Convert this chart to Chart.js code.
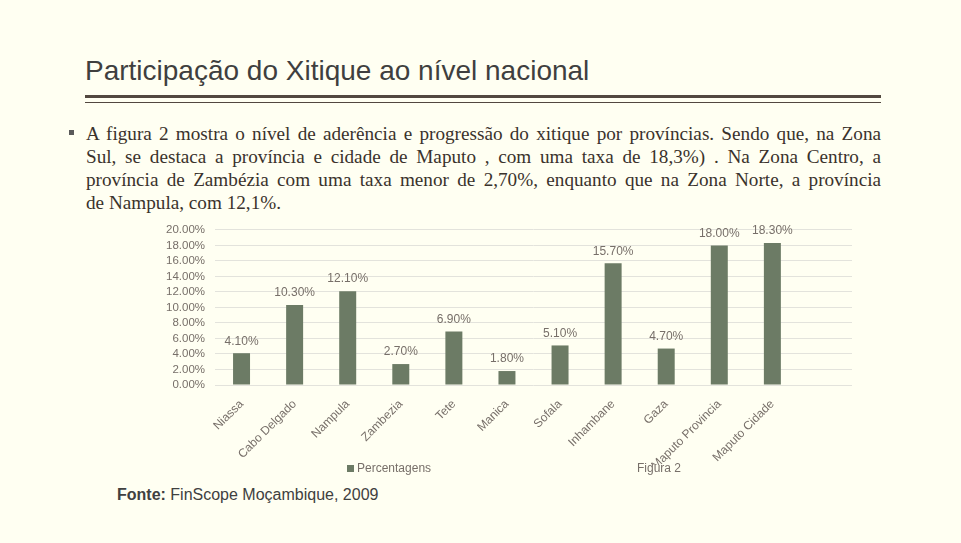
<!DOCTYPE html>
<html>
<head>
<meta charset="utf-8">
<script src="https://cdn.jsdelivr.net/npm/chart.js@4/dist/chart.umd.min.js"></script>
<style>
  html, body { margin: 0; padding: 0; }
  body { width: 961px; height: 543px; background: #FFFFF2; position: relative; overflow: hidden; font-family: "Liberation Sans", Arial, sans-serif; }
  #title { position: absolute; left: 85px; top: 55px; font-size: 28px; color: #3F3F3F; white-space: nowrap; }
  #rule1 { position: absolute; left: 85px; top: 95px; width: 796px; height: 3px; background: #524840; }
  #rule2 { position: absolute; left: 85px; top: 102px; width: 796px; height: 1px; background: #524840; }
  #bullet { position: absolute; left: 69px; top: 130px; width: 5px; height: 5px; background: #5a5a5a; }
  #body { position: absolute; left: 86px; top: 122px; width: 795px; font-family: "Liberation Serif", "Times New Roman", serif; font-size: 19.2px; color: #3A322C; line-height: 23px; }
  #body div { white-space: nowrap; }
  #body div.j { text-align: justify; text-align-last: justify; }
  #chartbox { position: absolute; left: 150px; top: 213px; width: 720px; height: 252px; }
  #legend { position: absolute; top: 461px; left: 0; width: 961px; font-size: 12px; color: #776F69; }
  .li { position: absolute; white-space: nowrap; }
  .sw { display: inline-block; width: 7px; height: 7px; margin-right: 3px; vertical-align: 0px; }
  #fonte { position: absolute; left: 117px; top: 486px; font-size: 16px; color: #404040; white-space: nowrap; }
</style>
</head>
<body>
<div id="title">Participação do Xitique ao nível nacional</div>
<div id="rule1"></div>
<div id="rule2"></div>
<div id="bullet"></div>
<div id="body">
  <div class="j">A figura 2 mostra o nível de aderência e progressão do xitique por províncias. Sendo que, na Zona</div>
  <div class="j">Sul, se destaca a província e cidade de Maputo , com uma taxa de 18,3%) . Na Zona Centro, a</div>
  <div class="j">província de Zambézia com uma taxa menor de 2,70%, enquanto que na Zona Norte, a província</div>
  <div>de Nampula, com 12,1%.</div>
</div>
<div id="chartbox"><canvas id="c" width="720" height="252"></canvas></div>
<div id="legend">
  <div class="li" style="left:347px;"><span class="sw" id="sw0"></span><span id="lt0"></span></div>
  <div class="li" style="left:637px;"><span id="lt1"></span></div>
</div>
<div id="fonte"><b>Fonte:</b> FinScope Moçambique, 2009</div>
<script>
const categories = ["Niassa", "Cabo Delgado", "Nampula", "Zambezia", "Tete", "Manica", "Sofala", "Inhambane", "Gaza", "Maputo Provincia", "Maputo Cidade", ""];
const percentagens = [4.1, 10.3, 12.1, 2.7, 6.9, 1.8, 5.1, 15.7, 4.7, 18.0, 18.3, null];
const seriesNames = ["Percentagens", "Figura 2"];
const yMin = 0, yMax = 20, yStep = 2;

const barColor = "#6C7B65";
const textColor = "#776F69";

document.getElementById("sw0").style.background = barColor;
document.getElementById("lt0").textContent = seriesNames[0];
document.getElementById("lt1").textContent = seriesNames[1];

const dataLabels = {
  id: "dataLabels",
  afterDatasetsDraw(chart) {
    const ctx = chart.ctx;
    const meta = chart.getDatasetMeta(0);
    ctx.save();
    ctx.font = "12px 'Liberation Sans', Arial, sans-serif";
    ctx.fillStyle = textColor;
    ctx.textAlign = "center";
    ctx.textBaseline = "bottom";
    meta.data.forEach((bar, i) => {
      const v = percentagens[i];
      if (v === null || v === undefined) return;
      ctx.fillText(v.toFixed(2) + "%", bar.x, bar.y - 6);
    });
    ctx.restore();
  }
};

new Chart(document.getElementById("c"), {
  type: "bar",
  data: {
    labels: categories,
    datasets: [
      { label: seriesNames[0], data: percentagens, backgroundColor: barColor, categoryPercentage: 1, barPercentage: 0.32 },
      { label: seriesNames[1], data: [], backgroundColor: "rgba(0,0,0,0)", grouped: false }
    ]
  },
  options: {
    responsive: false,
    animation: false,
    devicePixelRatio: 1,
    layout: { padding: { top: 2, right: 18, bottom: 0, left: 0 } },
    plugins: { legend: { display: false }, tooltip: { enabled: false } },
    scales: {
      x: {
        grid: { display: false },
        border: { display: false },
        afterFit(axis) { axis.height = 80; },
        ticks: {
          autoSkip: false, minRotation: 45, maxRotation: 45, padding: 4,
          color: textColor, font: { family: "'Liberation Sans', Arial, sans-serif", size: 12 }
        }
      },
      y: {
        min: yMin, max: yMax,
        afterFit(axis) { axis.width = 65; },
        grid: { color: "#E3E3DC", drawTicks: false, lineWidth: 1 },
        border: { display: false },
        ticks: {
          stepSize: yStep, autoSkip: false,
          padding: 10, color: textColor,
          font: { family: "'Liberation Sans', Arial, sans-serif", size: 11.5 },
          callback: v => v.toFixed(2) + "%"
        }
      }
    }
  },
  plugins: [dataLabels]
});
</script>
</body>
</html>
